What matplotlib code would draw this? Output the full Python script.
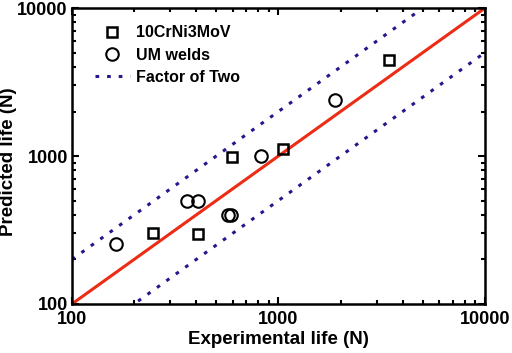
import matplotlib
matplotlib.use("Agg")
import matplotlib.pyplot as plt
import numpy as np
from matplotlib.ticker import LogLocator, NullFormatter, FixedLocator, FixedFormatter

plt.rcParams['font.family'] = ['Liberation Sans', 'DejaVu Sans']
plt.rcParams['font.weight'] = 'bold'

sq_exp = [246, 410, 593, 1055, 3428]
sq_pred = [302, 297, 992, 1124, 4446]
ci_exp = [163, 360, 406, 569, 586, 822, 1884]
ci_pred = [256, 495, 495, 400, 400, 1008, 2410]
line_x = [100, 10000]
ticks = [100, 1000, 10000]
tick_labels = ["100", "1000", "10000"]

fig = plt.figure(figsize=(5.12, 3.53), dpi=100)
ax = fig.add_axes([0.1406, 0.139, 0.8064, 0.838])
ax.set_xscale('log')
ax.set_yscale('log')

lx = np.array(line_x, dtype=float)
ax.plot(lx, lx, color='#ec2c14', lw=2.2, zorder=2)
navy = '#24188c'
ax.plot(lx, 2 * lx, color=navy, lw=2.2, ls=(0, (1.2, 2.6)), zorder=2, label='Factor of Two')
ax.plot(lx, lx / 2, color=navy, lw=2.2, ls=(0, (1.2, 2.6)), zorder=2)

ax.plot(sq_exp, sq_pred, ls='none', marker='s', ms=7.5, mfc='none', mec='black', mew=1.8,
        label='10CrNi3MoV', zorder=3)
ax.plot(ci_exp, ci_pred, ls='none', marker='o', ms=9, mfc='none', mec='black', mew=1.5,
        label='UM welds', zorder=3)

ax.set_xlim(100, 10000)
ax.set_ylim(100, 10000)
for axis in (ax.xaxis, ax.yaxis):
    axis.set_major_locator(FixedLocator(ticks))
    axis.set_major_formatter(FixedFormatter(tick_labels))
    axis.set_minor_locator(LogLocator(base=10, subs=np.arange(2, 10)))
    axis.set_minor_formatter(NullFormatter())
ax.tick_params(which='both', direction='in', top=True, right=True, labelsize=13, width=1.5)
ax.tick_params(which='major', length=5)
ax.tick_params(which='minor', length=3)
ax.tick_params(axis='x', which='major', pad=5)
ax.tick_params(axis='y', which='major', pad=3)
for lab in ax.get_xticklabels() + ax.get_yticklabels():
    lab.set_fontweight('bold')
for s in ax.spines.values():
    s.set_linewidth(1.8)

ax.set_xlabel('Experimental life (N)', fontsize=13.5, fontweight='bold', labelpad=0)
ax.set_ylabel('Predicted life (N)', fontsize=13.5, fontweight='bold')
ax.yaxis.set_label_coords(-0.133, 0.48)
ax.xaxis.set_label_coords(0.5, -0.092)

h, l = ax.get_legend_handles_labels()
order = [1, 2, 0]
ax.legend([h[i] for i in order], [l[i] for i in order], frameon=False, loc='upper left',
          bbox_to_anchor=(0.02, 0.99), prop={'size': 11.5, 'weight': 'bold'},
          handlelength=2.2, handletextpad=0.4, labelspacing=0.45)

fig.savefig('out.png', dpi=100)
